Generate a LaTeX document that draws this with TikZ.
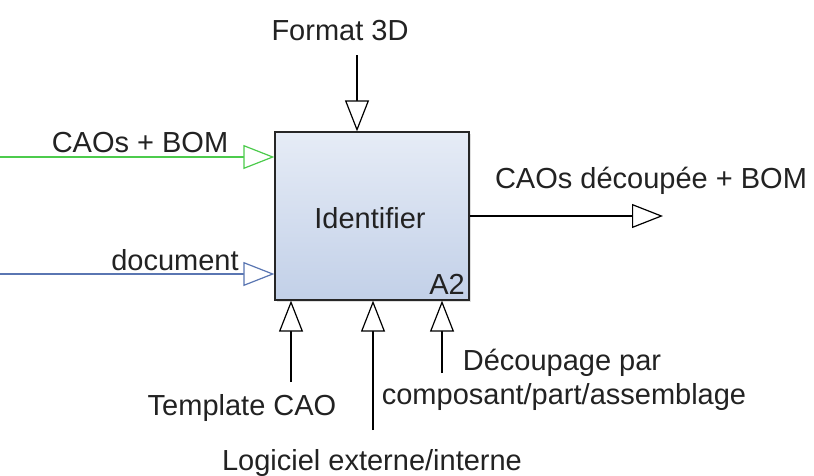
\documentclass[tikz,border=0pt]{standalone}
\usepackage{fontspec}
\setmainfont{Liberation Sans}
\usetikzlibrary{arrows.meta,shadows}
\definecolor{boxtop}{HTML}{E6ECF6}
\definecolor{boxbot}{HTML}{C2D0E8}
\definecolor{greenline}{HTML}{4CCB4C}
\definecolor{blueline}{HTML}{5A76B2}
\definecolor{txt}{HTML}{222222}
\begin{document}
\begin{tikzpicture}[x=1pt,y=-1pt,
  every node/.style={font=\fontsize{29}{34}\selectfont, text=txt},
  lbl/.style={inner sep=0pt, anchor=base},
  flow/.style={line width=1.2pt, -{Triangle[open, fill=white, length=31pt, width=24pt, line width=1.2pt]}},
  actbox/.style={draw=black!85, line width=1.3pt, top color=boxtop, bottom color=boxbot,
    minimum width=194pt, minimum height=168pt, inner sep=0pt,
    drop shadow={shadow xshift=2pt, shadow yshift=-2pt, opacity=0.25}}]
\useasboundingbox (0,0) rectangle (814,475);
\fill[white] (0,0) rectangle (814,475);

\node[actbox] (A) at (372,216) {};
\node[lbl] (idt) at (370,228) {Identifier};
\node[lbl, anchor=base east] (a2) at (465,294) {A2};

% coordinates of free ends
\coordinate (gin) at (0,157);
\coordinate (bin) at (0,274);
\coordinate (ctop) at (357,55);
\coordinate (out) at (663,216);
\coordinate (m1) at (291,382);
\coordinate (m2) at (373,430);
\coordinate (m3) at (442,373);

% inputs
\draw[flow, draw=greenline] (gin) -- (gin -| A.west);
\draw[flow, draw=blueline] (bin) -- (bin -| A.west);
% control
\draw[flow, draw=black] (ctop) -- (ctop |- A.north);
% output
\draw[flow, draw=black] (out -| A.east) -- (out);
% mechanisms
\draw[flow, draw=black] (m1) -- (m1 |- A.south);
\draw[flow, draw=black] (m2) -- (m2 |- A.south);
\draw[flow, draw=black] (m3) -- (m3 |- A.south);

% labels
\node[lbl] (lf) at (340,40) {Format 3D};
\node[lbl] (lg) at (140,152) {CAOs + BOM};
\node[lbl] (lb) at (175,270) {document};
\node[lbl] (lo) at (651,188) {CAOs découpée + BOM};
\node[lbl] (lt) at (242,415) {Template CAO};
\node[lbl] (ld1) at (562,370) {Découpage par};
\node[lbl] (ld2) at (564,404) {composant/part/assemblage};
\node[lbl] (ll) at (372,470) {Logiciel externe/interne};
\end{tikzpicture}
\end{document}
